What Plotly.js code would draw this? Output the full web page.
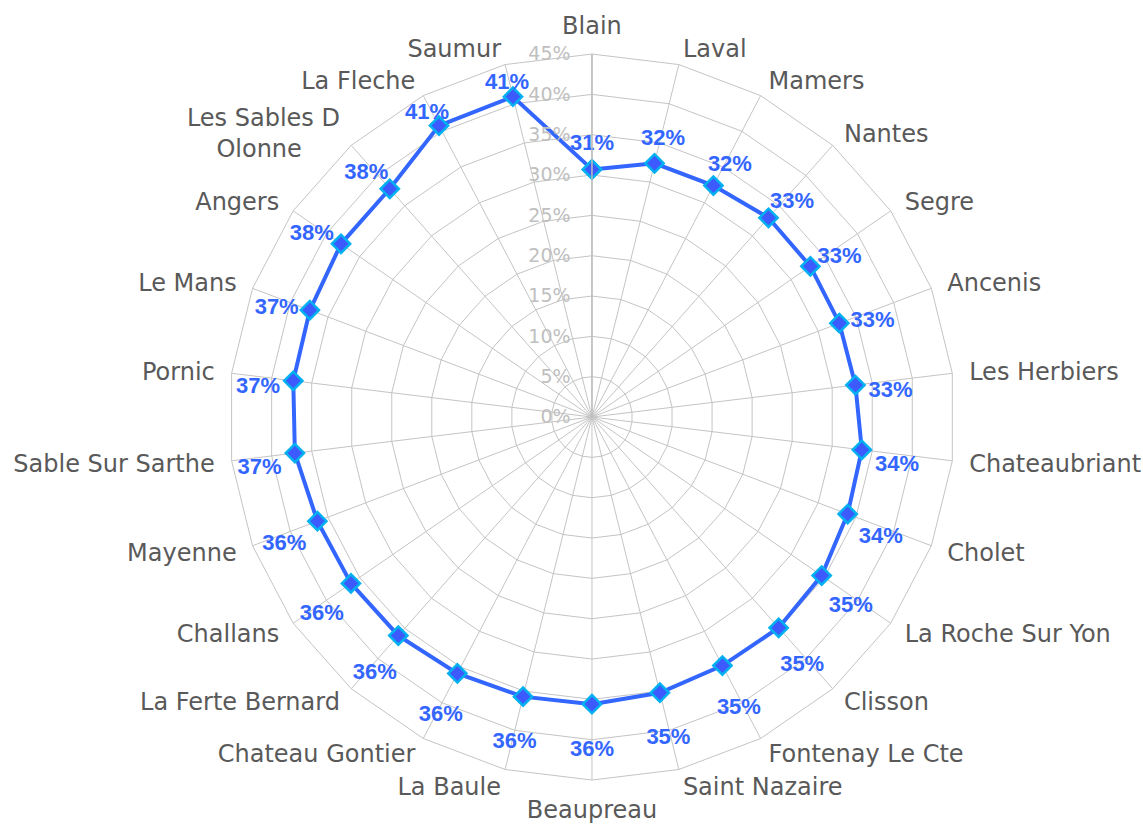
<!DOCTYPE html>
<html>
<head>
<meta charset="utf-8">
<script src="https://cdn.plot.ly/plotly-3.0.1.min.js"></script>
<style>
html,body{margin:0;padding:0;background:#fff;}
#chart{width:1143px;height:825px;}
</style>
</head>
<body>
<div id="chart"></div>
<script>
var categories = ["Blain","Laval","Mamers","Nantes","Segre","Ancenis","Les Herbiers","Chateaubriant","Cholet","La Roche Sur Yon","Clisson","Fontenay Le Cte","Saint Nazaire","Beaupreau","La Baule","Chateau Gontier","La Ferte Bernard","Challans","Mayenne","Sable Sur Sarthe","Pornic","Le Mans","Angers","Les Sables D Olonne","La Fleche","Saumur"];
var categoryLabels = ["Blain","Laval","Mamers","Nantes","Segre","Ancenis","Les Herbiers","Chateaubriant","Cholet","La Roche Sur Yon","Clisson","Fontenay Le Cte","Saint Nazaire","Beaupreau","La Baule","Chateau Gontier","La Ferte Bernard","Challans","Mayenne","Sable Sur Sarthe","Pornic","Le Mans","Angers","Les Sables D<br>Olonne&nbsp;&nbsp;&nbsp;&nbsp;&nbsp;","La Fleche","Saumur"];
var values = [30.7,32.4,32.4,33.0,32.9,32.8,32.9,33.7,33.9,34.6,34.9,34.8,35.2,35.6,35.7,35.9,36.2,36.3,36.4,37.1,37.3,37.4,37.8,37.8,40.8,40.9];
var radialTicks = [0,5,10,15,20,25,30,35,40,45];

var rMax = 45;
var n = categories.length;
var closedCats = categories.concat([categories[0]]);
var closedVals = values.concat([values[0]]);
var labelOffset = 4.4;
var labelR = values.map(function(v){ return Math.min(v + labelOffset, rMax - 1); });
var labelText = values.map(function(v){ return Math.round(v) + '%'; });

// category labels drawn in a larger, invisible overlay polar (radius 390px vs 363px)
var catR = categories.map(function(){ return 380 / 390; });
var catPos = categories.map(function(c, i){
  var a = i * 360 / n;
  if (a === 0) return 'top center';
  if (a === 180) return 'bottom center';
  return a < 180 ? 'middle right' : 'middle left';
});

var traces = [
  {
    type: 'scatterpolar',
    subplot: 'polar',
    r: closedVals,
    theta: closedCats,
    mode: 'lines+markers',
    line: {color: '#3366ff', width: 4},
    marker: {symbol: 'diamond', size: 14, color: '#3d5afe', line: {color: '#00b0f0', width: 2.5}},
    hoverinfo: 'theta+r',
    showlegend: false
  },
  {
    type: 'scatterpolar',
    subplot: 'polar',
    r: labelR,
    theta: categories,
    mode: 'text',
    text: labelText,
    textposition: 'bottom center',
    cliponaxis: false,
    textfont: {family: 'Liberation Sans, Arial, sans-serif', size: 22, color: '#3366ff', weight: 'bold'},
    hoverinfo: 'skip',
    showlegend: false
  },
  {
    type: 'scatterpolar',
    subplot: 'polar2',
    r: catR,
    theta: categories,
    mode: 'text',
    text: categoryLabels,
    textposition: catPos,
    cliponaxis: false,
    textfont: {family: 'DejaVu Sans, Verdana, sans-serif', size: 24, color: '#595959'},
    hoverinfo: 'skip',
    showlegend: false
  }
];

var layout = {
  width: 1143,
  height: 825,
  margin: {l: 0, r: 0, t: 0, b: 0},
  paper_bgcolor: '#ffffff',
  plot_bgcolor: '#ffffff',
  showlegend: false,
  polar: {
    domain: {x: [0.2003, 0.8355], y: [0.0545, 0.9345]},
    bgcolor: '#ffffff',
    gridshape: 'linear',
    angularaxis: {
      type: 'category',
      categoryarray: categories,
      rotation: 90,
      direction: 'clockwise',
      showticklabels: false,
      ticks: '',
      showgrid: true,
      gridcolor: '#c4c4c4',
      gridwidth: 1,
      showline: true,
      linecolor: '#c4c4c4',
      linewidth: 1
    },
    radialaxis: {
      range: [0, rMax],
      angle: 90,
      side: 'counterclockwise',
      tickmode: 'array',
      tickvals: radialTicks,
      ticktext: radialTicks.map(function(t){ return t + '%'; }),
      tickfont: {family: 'DejaVu Sans, Verdana, sans-serif', size: 19, color: '#c0c0c0'},
      tickangle: 90,
      ticks: 'outside',
      ticklen: 14,
      tickcolor: 'rgba(0,0,0,0)',
      showgrid: true,
      gridcolor: '#c4c4c4',
      gridwidth: 1,
      showline: true,
      linecolor: '#bdbdbd',
      linewidth: 1.5
    }
  },
  polar2: {
    domain: {x: [0.1767, 0.8591], y: [0.0182, 0.9637]},
    bgcolor: 'rgba(0,0,0,0)',
    angularaxis: {
      type: 'category',
      categoryarray: categories,
      rotation: 90,
      direction: 'clockwise',
      visible: false,
      showgrid: false,
      showline: false,
      showticklabels: false,
      ticks: ''
    },
    radialaxis: {
      range: [0, 1],
      visible: false,
      showgrid: false,
      showline: false,
      showticklabels: false,
      ticks: ''
    }
  }
};

Plotly.newPlot('chart', traces, layout, {displayModeBar: false, staticPlot: true});
</script>
</body>
</html>
